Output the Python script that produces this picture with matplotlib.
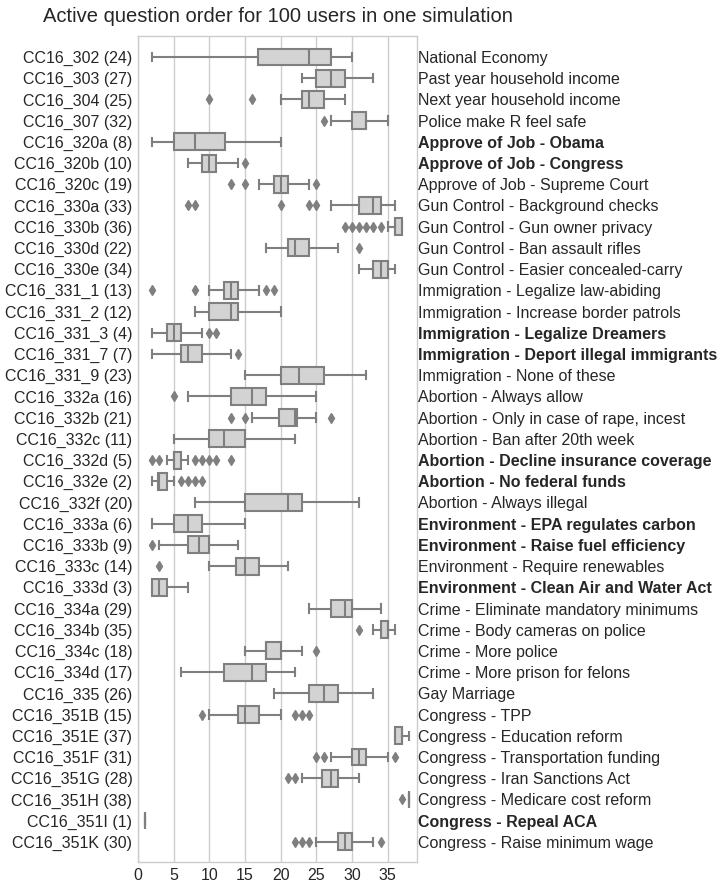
import matplotlib
matplotlib.use("Agg")
import matplotlib.pyplot as plt

codes = ["CC16_302", "CC16_303", "CC16_304", "CC16_307", "CC16_320a", "CC16_320b", "CC16_320c",
         "CC16_330a", "CC16_330b", "CC16_330d", "CC16_330e", "CC16_331_1", "CC16_331_2",
         "CC16_331_3", "CC16_331_7", "CC16_331_9", "CC16_332a", "CC16_332b", "CC16_332c",
         "CC16_332d", "CC16_332e", "CC16_332f", "CC16_333a", "CC16_333b", "CC16_333c",
         "CC16_333d", "CC16_334a", "CC16_334b", "CC16_334c", "CC16_334d", "CC16_335",
         "CC16_351B", "CC16_351E", "CC16_351F", "CC16_351G", "CC16_351H", "CC16_351I", "CC16_351K"]
ranks = [24, 27, 25, 32, 8, 10, 19, 33, 36, 22, 34, 13, 12, 4, 7, 23, 16, 21, 11, 5, 2, 20,
         6, 9, 14, 3, 29, 35, 18, 17, 26, 15, 37, 31, 28, 38, 1, 30]
descriptions = ["National Economy", "Past year household income", "Next year household income",
                "Police make R feel safe", "Approve of Job - Obama", "Approve of Job - Congress",
                "Approve of Job - Supreme Court", "Gun Control - Background checks",
                "Gun Control - Gun owner privacy", "Gun Control - Ban assault rifles",
                "Gun Control - Easier concealed-carry", "Immigration - Legalize law-abiding",
                "Immigration - Increase border patrols", "Immigration - Legalize Dreamers",
                "Immigration - Deport illegal immigrants", "Immigration - None of these",
                "Abortion - Always allow", "Abortion - Only in case of rape, incest",
                "Abortion - Ban after 20th week", "Abortion - Decline insurance coverage",
                "Abortion - No federal funds", "Abortion - Always illegal",
                "Environment - EPA regulates carbon", "Environment - Raise fuel efficiency",
                "Environment - Require renewables", "Environment - Clean Air and Water Act",
                "Crime - Eliminate mandatory minimums", "Crime - Body cameras on police",
                "Crime - More police", "Crime - More prison for felons", "Gay Marriage",
                "Congress - TPP", "Congress - Education reform", "Congress - Transportation funding",
                "Congress - Iran Sanctions Act", "Congress - Medicare cost reform",
                "Congress - Repeal ACA", "Congress - Raise minimum wage"]
bold = [False, False, False, False, True, True, False, False, False, False, False, False, False,
        True, True, False, False, False, False, True, True, False, True, True, False, True,
        False, False, False, False, False, False, False, False, False, False, True, False]

whislo = [2, 23, 20, 27, 2, 7, 17, 27, 35, 18, 31, 10, 8, 2, 2, 15, 7, 16, 5, 4, 2, 8, 2, 3, 10, 2,
          24, 33, 15, 6, 19, 10, 36, 27, 23, 38, 1, 25]
q1 = [16.75, 25, 23, 30, 5, 9, 19, 31, 36, 21, 33, 12, 10, 4, 6, 20, 13, 19.75, 10, 5, 2.75, 15,
      5, 7, 13.75, 2, 27, 34, 18, 12, 24, 14, 36, 30, 25.75, 38, 1, 28]
med = [24, 27, 24, 32, 8, 10, 20, 33, 36, 22, 34, 13, 13, 5, 7, 22.5, 16, 22, 12, 5, 3, 21,
       7, 8.5, 15, 3, 29, 35, 18, 16, 26, 15, 37, 31, 27, 38, 1, 29]
q3 = [27, 29, 26, 32, 12.25, 11, 21, 34, 37, 24, 35, 14, 14, 6, 9, 26, 18, 22.25, 15, 6, 4, 23,
      9, 10, 17, 4, 30, 35, 20, 18, 28, 17, 37, 32, 28, 38, 1, 30]
whishi = [30, 33, 29, 35, 20, 14, 24, 36, 37, 28, 36, 17, 20, 9, 13, 32, 25, 25, 22, 7, 5, 31,
          15, 14, 21, 7, 34, 36, 23, 22, 33, 20, 38, 35, 31, 38, 1, 33]
fliers = [[], [], [10, 16], [26], [], [15], [13, 15, 25], [7, 8, 20, 24, 25],
          [29, 30, 31, 32, 33, 34], [31], [], [2, 8, 18, 19], [], [10, 11], [14], [], [5],
          [13, 15, 27], [], [2, 3, 8, 9, 10, 11, 13], [6, 7, 8, 9], [], [], [2], [3], [], [],
          [31], [25], [], [], [9, 22, 23, 24], [], [25, 26, 36], [21, 22], [37], [], [22, 23, 24, 34]]

plt.rcParams['font.family'] = ['Liberation Sans', 'DejaVu Sans']

fig = plt.figure(figsize=(7.23, 8.88), dpi=100)
ax = fig.add_axes([138 / 723, 1 - 862 / 888, (417 - 138) / 723, (862 - 36) / 888])

edge = '#7f7f7f'
face = '#d3d3d3'
stats = []
for i in range(len(codes)):
    stats.append(dict(whislo=whislo[i], q1=q1[i], med=med[i], q3=q3[i], whishi=whishi[i],
                      fliers=fliers[i], label=codes[i]))

positions = list(range(len(codes)))
ax.bxp(stats, positions=positions, widths=0.8, orientation='horizontal', patch_artist=True,
       showfliers=True,
       boxprops=dict(facecolor=face, edgecolor=edge, linewidth=1.5),
       medianprops=dict(color=edge, linewidth=1.5),
       whiskerprops=dict(color=edge, linewidth=1.5),
       capprops=dict(color=edge, linewidth=1.5),
       flierprops=dict(marker='d', markerfacecolor=edge, markeredgecolor=edge, markersize=5,
                       linestyle='none'))

ax.set_xlim(0, 39.1)
ax.set_ylim(37.95, -0.99)
ax.set_xticks([0, 5, 10, 15, 20, 25, 30, 35])
ax.set_yticks(positions)
ax.set_yticklabels([f"{c} ({r})" for c, r in zip(codes, ranks)])
ax.tick_params(axis='both', length=0, labelsize=11.5, labelcolor='#262626', pad=4)
ax.grid(axis='x', color='#cccccc', linewidth=1.0)
ax.grid(axis='y', visible=False)
ax.set_axisbelow(True)
for s in ax.spines.values():
    s.set_color('#cccccc')
    s.set_linewidth(1.0)

ax2 = ax.twinx()
ax2.set_ylim(ax.get_ylim())
ax2.set_yticks(positions)
ax2.set_yticklabels(descriptions)
ax2.tick_params(axis='y', length=0, labelsize=11.5, labelcolor='#262626', pad=1)
for lab, b in zip(ax2.get_yticklabels(), bold):
    if b:
        lab.set_fontweight('bold')
for s in ax2.spines.values():
    s.set_visible(False)

ax.set_title("Active question order for 100 users in one simulation", fontsize=14.5,
             color='#262626', pad=10)

fig.savefig("out.png", dpi=100)
